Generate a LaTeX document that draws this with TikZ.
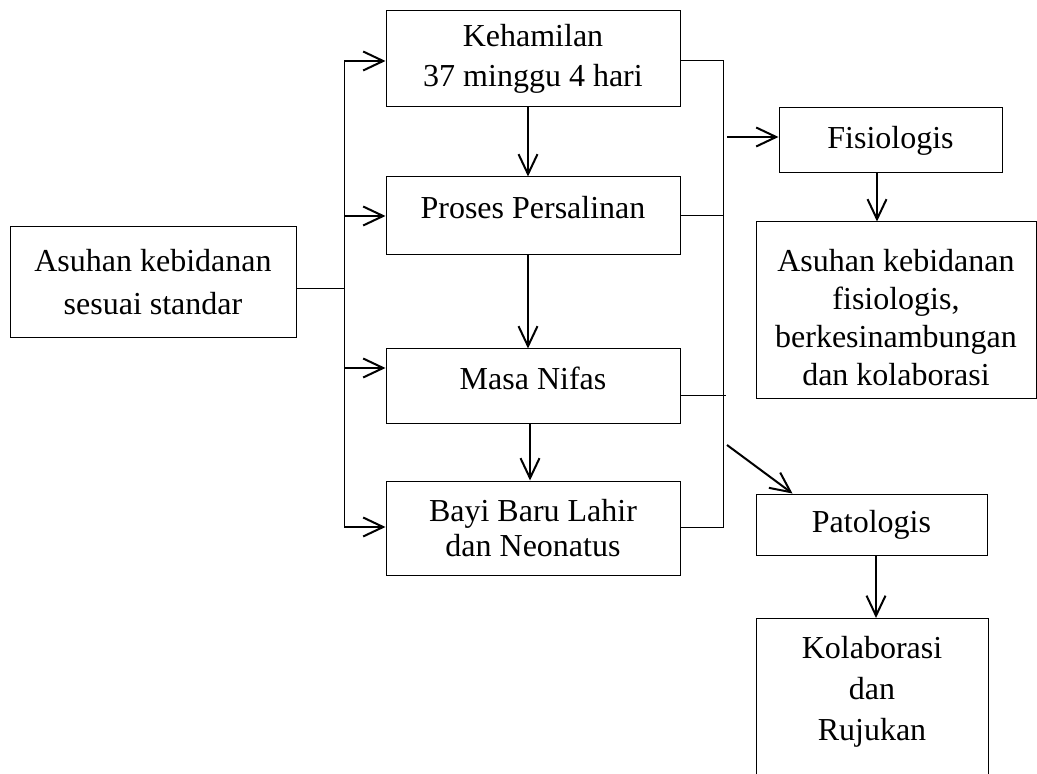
\documentclass[tikz,border=0pt]{standalone}
\usepackage{fontspec}
\setmainfont{Liberation Serif}
\usetikzlibrary{positioning, arrows.meta, calc}

\begin{document}
\begin{tikzpicture}[
  x=0.5pt, y=-0.5pt,
  every node/.style={font=\fontsize{16}{20}\selectfont},
  box/.style={rectangle, draw, line width=0.5pt, align=center, inner sep=0pt},
  arrow/.style={-{Straight Barb[length=10pt, width=9.5pt]}, line width=1pt},
  link/.style={line width=0.5pt}
]
  \clip (0,0) rectangle (1037,774);

  % Left: starting point
  \node[box, minimum width=143pt, minimum height=55.5pt, font=\fontsize{16}{21.5}\selectfont] (std) at (153,282.5) {Asuhan kebidanan\\sesuai standar};

  % Middle column: stages
  \node[box, minimum width=147pt, minimum height=48pt] (hamil) at (533,59) {Kehamilan\\37 minggu 4 hari};
  \node[box, minimum width=147pt, minimum height=39pt, text depth=9pt] (salin) at (533,216) {Proses Persalinan};
  \node[box, minimum width=147pt, minimum height=37.5pt, text depth=8pt] (nifas) at (533,386.5) {Masa Nifas};
  \node[box, minimum width=147pt, minimum height=47pt, font=\fontsize{16}{17.5}\selectfont] (bayi) at (533,528) {Bayi Baru Lahir\\dan Neonatus};

  % Right column: outcomes
  \node[box, minimum width=111.5pt, minimum height=32.5pt] (fisio) at (890.5,140.5) {Fisiologis};
  \node[box, minimum width=140pt, minimum height=88.5pt] (asfis) at (896,310.5) {};
  \node[align=center, inner sep=0pt, font=\fontsize{16}{19}\selectfont] (asfistext) at (896,318) {Asuhan kebidanan\\fisiologis,\\berkesinambungan\\dan kolaborasi};
  \node[box, minimum width=115.5pt, minimum height=30.5pt] (pato) at (871.5,524.5) {Patologis};
  \node[box, minimum width=116pt, minimum height=90pt, anchor=north] (kolab) at (872,618) {};
  \node[align=center, inner sep=0pt, font=\fontsize{16}{20.5}\selectfont] (kolabtext) at (872,692) {Kolaborasi\\dan\\Rujukan};

  % Bus coordinates
  \coordinate (ltop) at (344,61);
  \coordinate (ljoin) at (344,289);
  \coordinate (lnifas) at (344,368);
  \coordinate (lbot) at (344,527);
  \coordinate (rtop) at (723,61);
  \coordinate (rsalin) at (723,216);
  \coordinate (rnifas) at (726,396);
  \coordinate (rbot) at (723,527);
  \coordinate (rfisio) at (727,137);
  \coordinate (rpato) at (727,445);

  % Left bus
  \draw[link] (ljoin -| std.east) -- (ljoin);
  \draw[link] (ltop) -- (lbot);
  \draw[arrow] (ltop) -- (ltop -| hamil.west);
  \draw[arrow] (salin.west -| ltop) -- (salin.west);
  \draw[arrow] (lnifas) -- (lnifas -| nifas.west);
  \draw[arrow] (lbot) -- (lbot -| bayi.west);

  % Down arrows
  \draw[arrow] ([xshift=-2.5pt]hamil.south) -- ([xshift=-2.5pt]salin.north);
  \draw[arrow] ([xshift=-2.5pt]salin.south) -- ([xshift=-2.5pt]nifas.north);
  \draw[arrow] ([xshift=-1.5pt]nifas.south) -- ([xshift=-1.5pt]bayi.north);
  \draw[arrow] ([xshift=-6.75pt]fisio.south) -- ([xshift=-6.75pt]fisio.south |- asfis.north);
  \draw[arrow] ([xshift=2.25pt]pato.south) -- ([xshift=2.25pt]pato.south |- kolab.north);

  % Right bus
  \draw[link] (hamil.east |- rtop) -- (rtop) -- (rbot) -- (bayi.east |- rbot);
  \draw[link] (salin.east) -- (rsalin);
  \draw[link] (nifas.east |- rnifas) -- (rnifas);
  \draw[arrow] (rfisio) -- (rfisio -| fisio.west);
  \draw[arrow] (rpato) -- ($(pato.north west)+(37,0)$);

\end{tikzpicture}
\end{document}
